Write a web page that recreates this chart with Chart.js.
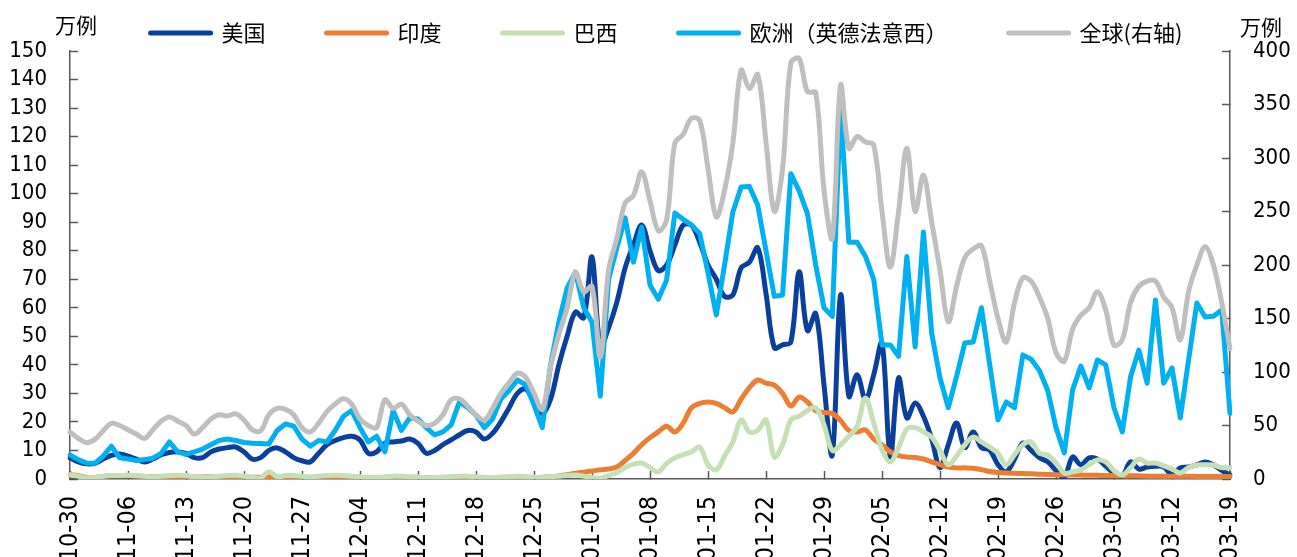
<!DOCTYPE html>
<html lang="zh-CN">
<head>
<meta charset="utf-8">
<title>新增确诊</title>
<script src="https://cdn.jsdelivr.net/npm/chart.js@4.4.1/dist/chart.umd.min.js"></script>
<style>
  html, body { margin: 0; padding: 0; background: #fff; }
  #wrap { width: 1297px; height: 557px; }
</style>
</head>
<body>
<div id="wrap"><canvas id="chart" width="1297" height="557"></canvas></div>
<script>
// 日期：2020-10-30 到 2021-03-19，按天
const START = new Date(2020, 9, 30);
const DAYS = 141;
const dates = [];
for (let i = 0; i < DAYS; i++) {
  const d = new Date(START.getFullYear(), START.getMonth(), START.getDate() + i);
  dates.push(String(d.getMonth() + 1).padStart(2, "0") + "-" + String(d.getDate()).padStart(2, "0"));
}

const seriesNames = ["美国", "印度", "巴西", "欧洲（英德法意西）", "全球(右轴)"];
const unitLabel = "万例";

// 左轴（万例）
const usa = [
  7.4, 6, 5.3, 5.5, 7, 8.3, 8.8, 8, 7, 6,
  7, 8.5, 9.3, 9.5, 9, 7.5, 7.5, 9.5, 10.5, 11,
  11.2, 9.5, 7, 7.5, 10, 10.9, 9.5, 7.5, 6.4, 6,
  9, 12, 13.5, 14.5, 15, 13.7, 9, 9.5, 12.6, 13,
  13.3, 14, 12.5, 9, 10, 12, 13.7, 15.5, 17, 16.5,
  14, 16, 20, 25, 30, 31.5, 27, 23, 28, 40,
  50, 58.5, 56.5, 77.8, 46.3, 53, 62, 74, 82, 89,
  80, 73, 75, 82, 89, 89, 83, 75, 70, 64,
  64.5, 74, 76, 81, 65, 46, 47, 48, 72.6, 52,
  58, 33, 8.4, 64.5, 29, 36.5, 28, 36.5, 47.7, 7.7,
  35.4, 21.4, 26.6, 22, 14, 4, 12, 19.6, 11, 16.5,
  11, 10.2, 5, 2.5, 7, 12.6, 10, 7.5, 6, 3,
  0.5, 7.7, 5, 7.4, 7, 4.5, 2, 1, 6, 3.5,
  4.2, 4.5, 4.2, 1.5, 3.9, 4.2, 5, 6, 5, 3,
  1.4
];
const india = [
  1.5, 1.2, 0.4, 0.5, 0.9, 1.1, 1.1, 1.1, 1, 0.9,
  0.9, 0.9, 0.9, 0.9, 0.8, 0.7, 0.7, 0.8, 0.8, 0.8,
  0.8, 0.7, 0.6, 0.6, 0.8, 0.7, 0.6, 0.6, 0.5, 0.5,
  0.6, 0.6, 0.6, 0.6, 0.6, 0.5, 0.5, 0.5, 0.5, 0.5,
  0.5, 0.5, 0.4, 0.4, 0.4, 0.4, 0.4, 0.4, 0.4, 0.4,
  0.4, 0.4, 0.4, 0.4, 0.4, 0.5, 0.5, 0.6, 0.8, 1.1,
  1.5, 2, 2.4, 2.8, 3.2, 3.5, 4.2, 6.5, 9, 12,
  14.5, 16.5, 18.5, 16.5, 19.6, 25, 26.5, 27, 26.5, 25,
  23.5, 28, 32, 34.7, 33.6, 32.9, 30, 25.6, 28.7, 27,
  24, 23.3, 23, 20.5, 17, 16.5, 17.2, 14, 12, 9.5,
  8.2, 7.7, 7.5, 7, 6, 5, 4.2, 3.9, 3.9, 3.8,
  3.3, 2.6, 2.3, 2.1, 2, 1.9, 1.8, 1.7, 1.6, 1.5,
  1.5, 1.4, 1.4, 1.3, 1.3, 1.2, 1.2, 1.1, 1.1, 1.1,
  1, 1, 1, 1, 1, 1, 0.9, 0.9, 0.9, 0.9,
  0.9
];
const brazil = [
  1.5, 1, 0.3, 0.5, 1, 1.2, 1.2, 1.3, 1.2, 1,
  0.8, 1, 1.2, 1.3, 1.2, 0.8, 0.5, 0.7, 1, 1.2,
  1.3, 1, 0.6, 0.4, 2.5, 0.8, 1.2, 1.2, 1, 0.8,
  1, 1.2, 1.3, 1.2, 1, 0.8, 0.6, 0.6, 0.8, 1,
  1, 0.9, 0.7, 0.5, 0.5, 0.7, 0.9, 1, 1, 0.8,
  0.6, 0.5, 0.7, 0.9, 1, 0.9, 0.6, 0.5, 0.8, 1,
  1.2, 1.4, 1, 0.5, 0.3, 1.2, 2.2, 4, 5.2, 5.6,
  4, 2.5, 5.5, 7.4, 8.5, 9.5, 11.2, 5, 3.2, 8,
  13, 20.7, 16.5, 17, 20.7, 7.7, 12, 20.7, 22, 24,
  25, 19, 10, 12, 15, 18.5, 28.4, 19.6, 10.2, 6,
  11, 17.5, 18, 16.5, 14.7, 10, 5, 8, 12, 14.7,
  13, 11.2, 9, 5, 8.5, 12, 13, 9, 8.4, 5.6,
  2.1, 2.5, 3.2, 5, 6.7, 6, 3, 1.4, 4, 7,
  5.6, 5.6, 4.6, 3.5, 2.1, 4, 4.9, 5, 4.9, 4,
  3.9
];
const europe = [
  8.4, 6.8, 5.6, 5.5, 8, 11.5, 7.4, 7, 6.5, 6.8,
  7.3, 9, 13, 9.5, 8.6, 9.5, 10.5, 12, 13.5, 14,
  13.5, 12.8, 12.5, 12.4, 12.3, 17, 19.3, 18.5, 14, 11.5,
  13.5, 13, 17, 22, 24, 18, 13, 15, 9.5, 24,
  17, 21.4, 21, 18, 15.5, 16.5, 19, 27, 25, 22.4,
  18, 21, 28, 31, 34.7, 33, 26, 18, 40, 55,
  67, 72.5, 60, 55, 29, 70, 81, 91.5, 76, 88.3,
  68, 63, 69.7, 93.2, 91, 89, 86, 72.2, 57.5, 75,
  93.6, 102.3, 102.5, 96, 80, 64, 64.5, 107, 101, 93,
  75, 60, 57, 130, 83, 83, 78, 70, 47, 47,
  43, 78, 46.3, 86.6, 51, 35.4, 25, 36, 47.7, 48,
  60, 40, 20.7, 27, 25, 43.5, 42, 38, 31, 18,
  9.1, 31.2, 39.6, 31.9, 41.7, 40, 24.9, 16.5, 35.8, 45.2,
  33.6, 62.7, 33.6, 38.9, 21.4, 41.7, 61.7, 56.8, 57, 59.2,
  23
];
// 右轴（万例）
const world = [
  44, 38, 34, 37, 45, 52, 50, 46, 42, 38,
  46, 54, 58, 54, 50, 42, 48, 56, 60, 59,
  61, 55, 46, 45, 60, 66, 65, 60, 48, 44,
  52, 63, 70, 75, 70, 56, 50, 48, 74, 66,
  70, 60, 54, 50, 52, 60, 74, 75, 68, 60,
  55, 66, 80, 90, 99, 95, 80, 65, 105, 135,
  160, 193, 175, 180, 114, 195, 225, 258, 265, 287,
  260, 232, 242, 314, 322, 337, 335, 290, 245, 270,
  314, 382, 365, 378, 315, 250, 290, 389, 393, 362,
  361, 270, 225, 368, 309, 320, 315, 312, 250, 198,
  250, 309, 250, 284, 240, 195, 147, 180, 207, 215,
  218, 185, 150, 128, 165, 188, 185, 170, 150, 118,
  110, 140, 153, 160, 175, 158, 125, 130, 165, 180,
  185, 185, 170, 160, 130, 175, 200, 217, 200, 165,
  122
];

const colors = ["#0B3F9C", "#ED7D31", "#C5E0B4", "#00B0F0", "#BFBFBF"];
const NUM_FONT = "'DejaVu Sans Condensed', 'DejaVu Sans', sans-serif";
const CJK_FONT = "'Noto Sans CJK SC', sans-serif";
const AXIS_COLOR = "#595959";

function makeDataset(i, data, axis, tension) {
  return {
    label: seriesNames[i],
    data: data,
    yAxisID: axis,
    borderColor: colors[i],
    backgroundColor: colors[i],
    borderWidth: 5,
    pointRadius: 0,
    tension: tension,
    borderJoinStyle: "round",
    borderCapStyle: "round",
    order: 4 - i, // 后面的系列画在上面，和原图一致
  };
}

// 左右两侧“万例”
const unitLabels = {
  id: "unitLabels",
  afterDraw(chart) {
    const { ctx, chartArea } = chart;
    ctx.save();
    ctx.font = "21px " + CJK_FONT;
    ctx.fillStyle = "#000";
    ctx.textAlign = "center";
    ctx.textBaseline = "middle";
    ctx.fillText(unitLabel, chartArea.left + 6, chartArea.top - 26);
    ctx.fillText(unitLabel, chartArea.right + 31, chartArea.top - 24);
    ctx.restore();
  },
};

const ctx = document.getElementById("chart").getContext("2d");
new Chart(ctx, {
  type: "line",
  plugins: [unitLabels],
  data: {
    labels: dates,
    datasets: [
      makeDataset(0, usa, "y", 0.35),
      makeDataset(1, india, "y", 0.35),
      makeDataset(2, brazil, "y", 0.35),
      makeDataset(3, europe, "y", 0),
      makeDataset(4, world, "y1", 0.35),
    ],
  },
  options: {
    responsive: false,
    animation: false,
    devicePixelRatio: 1,
    // 右侧负边距只是为了让图例整体往右挪一点
    layout: { padding: { top: -39, left: 0, right: -36, bottom: 0 } },
    plugins: {
      tooltip: { enabled: false },
      legend: {
        position: "top",
        align: "center",
        maxHeight: 90,
        labels: {
          usePointStyle: true,
          pointStyleWidth: 60,
          padding: 61,
          color: "#000",
          font: { family: CJK_FONT, size: 22 },
          generateLabels: (chart) =>
            chart.data.datasets.map((ds, i) => ({
              text: ds.label,
              fillStyle: ds.borderColor,
              strokeStyle: ds.borderColor,
              lineWidth: 5,
              lineCap: "round",
              pointStyle: "line",
              hidden: !chart.isDatasetVisible(i),
              datasetIndex: i,
              fontColor: "#000",
            })),
        },
      },
    },
    scales: {
      x: {
        offset: false,
        grid: {
          drawOnChartArea: false,
          tickLength: -8,
          tickWidth: 1.5,
          tickColor: (c) => (c.index % 7 === 0 ? AXIS_COLOR : "rgba(0,0,0,0)"),
        },
        border: { color: AXIS_COLOR, width: 1.5 },
        ticks: {
          autoSkip: false,
          minRotation: 90,
          maxRotation: 90,
          padding: 25,
          color: "#000",
          font: { family: NUM_FONT, size: 25 },
          callback: function (value, index) {
            return index % 7 === 0 ? this.getLabelForValue(value) : "";
          },
        },
        afterFit: (s) => { s.height = 78; },
      },
      y: {
        position: "left",
        min: 0,
        max: 150,
        grid: { drawOnChartArea: false, tickLength: -8, tickWidth: 1.5, color: AXIS_COLOR },
        border: { color: AXIS_COLOR, width: 1.5 },
        ticks: { stepSize: 10, autoSkip: false, padding: 31, color: "#000", font: { family: NUM_FONT, size: 22 } },
        afterFit: (s) => { s.width = 70; },
      },
      y1: {
        position: "right",
        min: 0,
        max: 400,
        grid: { drawOnChartArea: false, tickLength: -8, tickWidth: 1.5, color: AXIS_COLOR },
        border: { color: AXIS_COLOR, width: 1.5 },
        ticks: { stepSize: 50, autoSkip: false, padding: 31, color: "#000", font: { family: NUM_FONT, size: 22 } },
        afterFit: (s) => { s.width = 103; },
      },
    },
  },
});
</script>
</body>
</html>
